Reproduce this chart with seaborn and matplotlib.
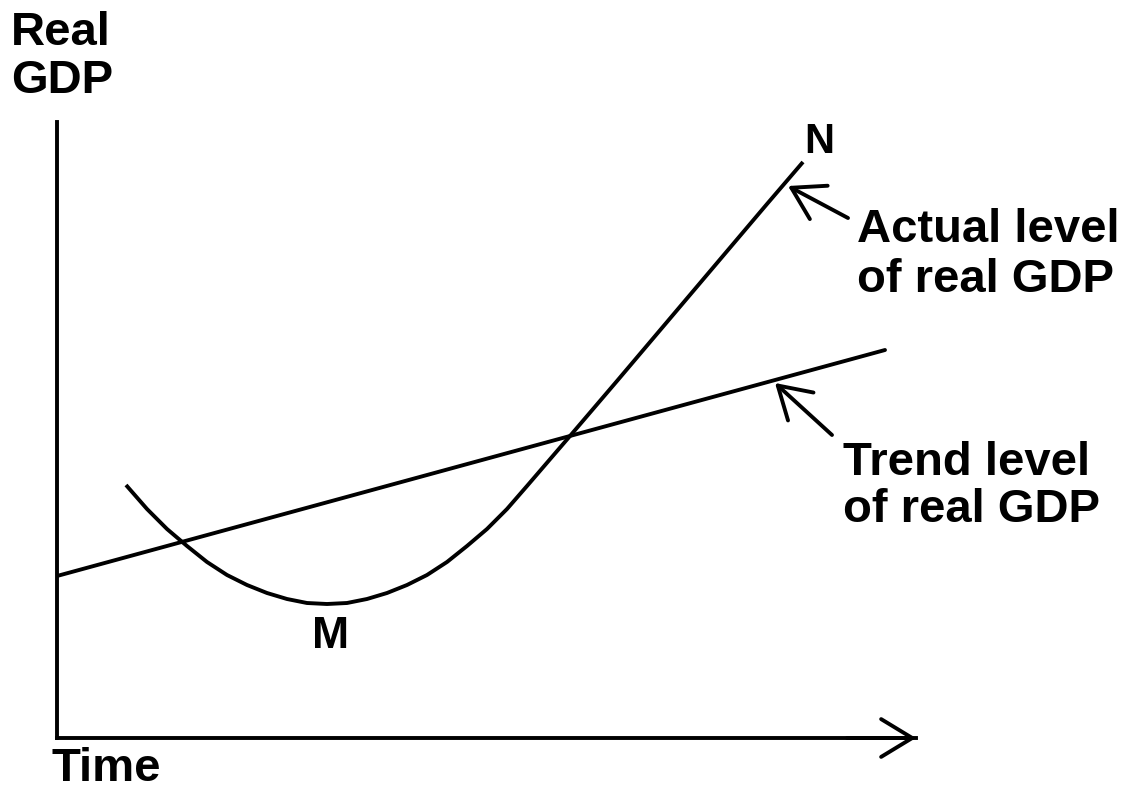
import numpy as np
import pandas as pd
import seaborn as sns
import matplotlib.pyplot as plt

# Diagram values: time measured from the origin, real GDP measured above the time axis
trend_time = [0, 828]
trend_gdp = [162, 388]

actual_time = [69, 90, 110, 130, 150, 170, 190, 210, 230, 250, 270, 290, 310, 330,
               350, 370, 390, 410, 430, 450, 470, 513, 560, 610, 660, 710, 746]
actual_gdp = [253, 229, 209, 192, 176, 163, 153, 145, 139, 135, 134, 135, 139, 145,
              153, 163, 176, 192, 209, 229, 252, 302, 357, 416, 475, 534, 576]

# where the label pointers touch the curves
label_tip = [(731, 552), (718, 355)]
label_tail = [(791, 520), (775, 303)]

sns.set_style("white")
plt.rcParams["font.family"] = ["Liberation Sans", "DejaVu Sans"]
plt.rcParams["text.color"] = "black"

fig = plt.figure(figsize=(11.33, 7.89), dpi=100)
ax = fig.add_axes([57 / 1133, 51 / 789, 859 / 1133, 616 / 789])

lw = 2.8
sns.lineplot(x=trend_time, y=trend_gdp, ax=ax, color="black", lw=lw, sort=False)
sns.lineplot(x=actual_time, y=actual_gdp, ax=ax, color="black", lw=lw, sort=False,
             solid_joinstyle="round", solid_capstyle="butt")

ax.set_xlim(0, 859)
ax.set_ylim(0, 616)
ax.set_xticks([])
ax.set_yticks([])
ax.set_xlabel("")
ax.set_ylabel("")
for side in ["top", "right"]:
    ax.spines[side].set_visible(False)
for side in ["left", "bottom"]:
    ax.spines[side].set_color("black")
    ax.spines[side].set_linewidth(lw)

head = dict(arrowstyle="->,head_length=1.12,head_width=0.68", color="black",
            lw=lw, mutation_scale=20, shrinkA=0, shrinkB=0)

# arrowhead on the time axis
ax.annotate("", xy=(859, 0), xytext=(790, 0), arrowprops=head, annotation_clip=False)

# pointers to the two curves
for tip, tail in zip(label_tip, label_tail):
    ax.annotate("", xy=tip, xytext=tail, arrowprops=head, annotation_clip=False)

big = 34
txt = dict(fontweight="bold", va="baseline", color="black")
ax.text(-46, 693, "Real", fontsize=big, ha="left", **txt)
ax.text(-46, 645, "GDP", fontsize=big, ha="left", **txt)
ax.text(-6, -43, "Time", fontsize=big, ha="left", **txt)

ax.text(762, 585, "N", fontsize=30, ha="center", **txt)
ax.text(274, 90, "M", fontsize=32, ha="center", **txt)

ax.text(800, 496, "Actual level", fontsize=big, ha="left", **txt)
ax.text(800, 446, "of real GDP", fontsize=big, ha="left", **txt)
ax.text(786, 263, "Trend level", fontsize=big, ha="left", **txt)
ax.text(786, 216, "of real GDP", fontsize=big, ha="left", **txt)

fig.savefig("out.png", dpi=100)
